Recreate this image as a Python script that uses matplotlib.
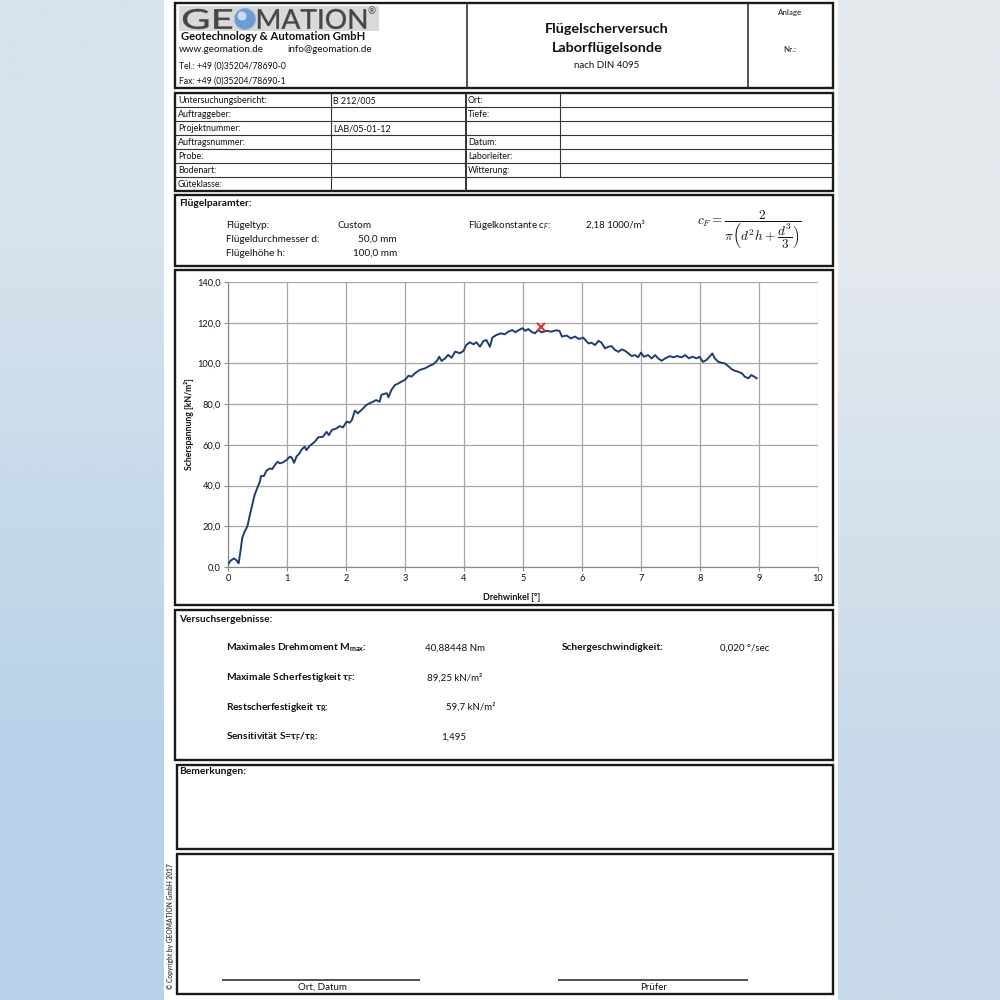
import matplotlib
matplotlib.use("Agg")
import matplotlib.pyplot as plt
import numpy as np
from matplotlib.patches import Rectangle, Circle, PathPatch
from matplotlib.textpath import TextPath
from matplotlib.font_manager import FontProperties
from matplotlib.transforms import Affine2D
from matplotlib.ticker import FuncFormatter

plt.rcParams["font.family"] = ["Lato", "DejaVu Sans"]
plt.rcParams["mathtext.fontset"] = "custom"
plt.rcParams["mathtext.rm"] = "Lato"
plt.rcParams["mathtext.bf"] = "Lato:bold"
plt.rcParams["mathtext.it"] = "Lato:italic"

# Messkurve
drehwinkel = [0.00, 0.045, 0.10, 0.14, 0.18, 0.21, 0.24, 0.28, 0.33, 0.37, 0.41, 0.45,
              0.50, 0.54, 0.56, 0.61, 0.65, 0.71, 0.75, 0.79, 0.84, 0.88, 0.93, 0.99,
              1.05, 1.08, 1.12, 1.16, 1.21, 1.25, 1.30, 1.33, 1.38, 1.47, 1.53, 1.61,
              1.67, 1.71, 1.76, 1.84, 1.89, 1.95, 2.01, 2.06, 2.10, 2.15, 2.20, 2.29,
              2.34, 2.40, 2.46, 2.51, 2.57, 2.60, 2.69, 2.72, 2.77,
              2.83, 2.89, 2.94, 3.00, 3.06, 3.11, 3.17, 3.25, 3.34, 3.42, 3.48, 3.54,
              3.58, 3.62, 3.68, 3.73, 3.79, 3.85, 3.93, 3.99, 4.04, 4.10, 4.16, 4.21,
              4.27, 4.33, 4.38, 4.44, 4.48, 4.55, 4.63, 4.69, 4.75, 4.82, 4.87, 4.93,
              4.99, 5.04, 5.09, 5.14, 5.20, 5.26, 5.31, 5.40, 5.48, 5.57, 5.62, 5.66,
              5.74, 5.81, 5.88, 5.95, 6.02,
              6.11, 6.16, 6.22, 6.28, 6.33, 6.39, 6.45, 6.50, 6.56, 6.62, 6.67, 6.73,
              6.79, 6.84, 6.90, 6.95, 7.00, 7.05, 7.12, 7.18, 7.24, 7.29, 7.35, 7.41,
              7.49, 7.55, 7.61, 7.69, 7.75, 7.81, 7.87, 7.94, 7.99, 8.05, 8.11, 8.17,
              8.21, 8.25, 8.31, 8.37, 8.42, 8.49, 8.54, 8.59, 8.65, 8.71, 8.76, 8.82,
              8.87, 8.92, 8.96]
scherspannung = [1.4, 3.1, 4.2, 3.4, 1.8, 7.5, 14.1, 17.3, 20.1, 25.5, 30.4, 35.3,
                 39.1, 41.9, 44.7, 44.7, 47.3, 48.4, 48.1, 49.9, 51.7, 50.9, 51.4, 52.5,
                 54.2, 53.8, 51.2, 54.2, 55.8, 57.8, 59.1, 57.4, 59.4, 61.5, 63.7, 64.0,
                 66.4, 64.8, 67.3, 68.1, 69.2, 68.6, 71.4, 70.9, 72.2, 76.8, 75.5, 77.9,
                 79.5, 80.4, 81.2, 82.0, 81.2, 84.6, 85.4, 83.4, 87.0,
                 89.4, 90.2, 91.1, 91.9, 94.0, 93.5, 95.2, 96.8, 97.6, 98.9, 99.6, 101.2,
                 103.3, 101.2, 102.5, 104.2, 102.8, 105.8, 105.0, 106.1, 109.1, 110.4, 109.4, 110.4,
                 108.2, 111.0, 111.5, 108.2, 112.7, 114.0, 114.8, 114.3, 115.6, 116.4, 115.3, 116.4,
                 117.3, 116.0, 116.9, 115.6, 114.8, 116.4, 115.3, 116.0, 115.6, 116.3, 115.9, 113.2,
                 113.7, 112.3, 113.2, 112.0, 112.7,
                 109.8, 110.2, 109.0, 111.1, 110.2, 107.4, 108.2, 108.5, 106.6, 105.7, 106.9, 106.2,
                 104.9, 103.6, 104.1, 103.0, 105.3, 103.3, 104.1, 102.5, 104.1, 102.5, 101.3, 102.5,
                 103.6, 103.0, 103.6, 103.0, 104.1, 102.5, 103.3, 102.5, 103.3, 100.8, 101.7, 103.6,
                 104.9, 102.5, 100.8, 100.3, 100.0, 98.4, 97.1, 96.4, 95.9, 95.1, 93.5, 92.7,
                 94.3, 93.5, 92.7]
max_punkt = (5.31, 118.0)

x_ticks = list(range(0, 11))
y_ticks = [0, 20, 40, 60, 80, 100, 120, 140]

kopf_links = [
    ("Untersuchungsbericht:", "B 212/005"),
    ("Auftraggeber:", ""),
    ("Projektnummer:", "LAB/05-01-12"),
    ("Auftragsnummer:", ""),
    ("Probe:", ""),
    ("Bodenart:", ""),
    ("Güteklasse:", ""),
]
kopf_rechts = ["Ort:", "Tiefe:", "", "Datum:", "Laborleiter:", "Witterung:", ""]

ergebnisse = [
    ("Maximales Drehmoment M$_{\\mathbf{max}}$:", "40,88448 Nm", 425),
    ("Maximale Scherfestigkeit τ$_{\\mathbf{F}}$:", "89,25 kN/m²", 427),
    ("Restscherfestigkeit τ$_{\\mathbf{R}}$:", "59,7 kN/m²", 446),
    ("Sensitivität S=τ$_{\\mathbf{F}}$/τ$_{\\mathbf{R}}$:", "1,495", 441),
]

fig = plt.figure(figsize=(10, 10), dpi=100)
bg = fig.add_axes([0, 0, 1, 1])
bg.set_xlim(0, 1000)
bg.set_ylim(1000, 0)
bg.axis("off")

# Hintergrundverlauf
corners = np.array([[[214, 226, 236], [228, 233, 238]],
                    [[184, 210, 233], [200, 218, 233]]]) / 255.0
bg.imshow(corners, extent=[0, 1000, 1000, 0], interpolation="bilinear", aspect="auto", zorder=0)
bg.add_patch(Rectangle((164, 0), 674, 1000, facecolor="white", edgecolor="none", zorder=1))


def t(x, y, s, size=6.6, weight="normal", ha="left", **kw):
    bg.text(x, y, s, fontsize=size, fontweight=weight, ha=ha, va="center", color="#111111", zorder=5, **kw)


def box(x0, y0, x1, y1, lw=1.7):
    bg.add_patch(Rectangle((x0, y0), x1 - x0, y1 - y0, fill=False, edgecolor="#1a1a1a", lw=lw, zorder=4))


def line(x0, y0, x1, y1, lw=0.8, color="#333333"):
    bg.plot([x0, x1], [y0, y1], color=color, lw=lw, zorder=4, solid_capstyle="butt")


def fit_text(s, x0, x1, ytop, ybot, color):
    tp = TextPath((0, 0), s, size=10, prop=FontProperties(family="Lato"))
    bb = tp.get_extents()
    sx = (x1 - x0) / bb.width
    sy = (ybot - ytop) / bb.height
    tr = Affine2D().translate(-bb.x0, -bb.y0).scale(sx, -sy).translate(x0, ybot)
    bg.add_patch(PathPatch(tr.transform_path(tp), facecolor=color, edgecolor=color, lw=0.3, zorder=5))


# Kopf
box(175, 3, 833, 88)
line(467, 3, 467, 88, lw=1.2)
line(748, 3, 748, 88, lw=1.2)
bg.add_patch(Rectangle((179, 6), 200, 25, facecolor="#d9d9d9", edgecolor="none", zorder=2))
fit_text("GE", 183, 232, 9, 29, "#474747")
bg.add_patch(Circle((245, 19), 10.5, facecolor="#6f9bd3", edgecolor="#8fb2de", lw=0.8, zorder=5))
bg.add_patch(Circle((242, 16), 4.5, facecolor="#c9dcf3", edgecolor="none", zorder=6))
fit_text("MATION", 258, 366, 9, 29, "#474747")
bg.text(372, 12, "®", fontsize=7, color="#474747", ha="center", va="center", zorder=5)
t(181, 36, "Geotechnology & Automation GmbH", size=8.1, weight="bold")
t(179, 49, "www.geomation.de", size=7.1)
t(287, 49, "info@geomation.de", size=7.1)
t(179, 66, "Tel.: +49 (0)35204/78690-0", size=6.2)
t(179, 81, "Fax: +49 (0)35204/78690-1", size=6.2)
t(607, 29, "Flügelscherversuch", size=10.4, weight="bold", ha="center")
t(607, 48, "Laborflügelsonde", size=10.4, weight="bold", ha="center")
t(607, 65, "nach DIN 4095", size=7.0, ha="center")
t(790, 13, "Anlage", size=5.8, ha="center")
t(790, 49, "Nr.:", size=5.8, ha="center")

# Angaben-Tabelle
box(175, 93, 833, 191)
row_h = 14
for i in range(1, 7):
    yy = 93 + i * row_h
    line(175, yy, 833, yy)
line(331, 93, 331, 191)
line(466, 93, 466, 191, lw=1.4)
line(560, 93, 560, 177)
for i, (lab, val) in enumerate(kopf_links):
    yc = 93 + row_h * i + row_h / 2 + 0.5
    t(178, yc, lab, size=6.4)
    t(333, yc, val, size=6.4)
    t(468, yc, kopf_rechts[i], size=6.4)

# Flügelparameter
box(175, 195, 833, 266)
t(179, 204, "Flügelparamter:", size=7.4, weight="bold")
t(226, 225, "Flügeltyp:", size=7.2)
t(338, 225, "Custom", size=7.2)
t(226, 239, "Flügeldurchmesser d:", size=7.2)
t(397, 239, "50,0 mm", size=7.2, ha="right")
t(226, 253, "Flügelhöhe h:", size=7.2)
t(397, 253, "100,0 mm", size=7.2, ha="right")
t(468, 225, "Flügelkonstante c$_{F}$:", size=7.0)
t(586, 225, "2,18 1000/m³", size=6.9)
bg.text(697, 230, r"$c_F = \dfrac{2}{\pi\left(d^2h+\dfrac{d^3}{3}\right)}$", math_fontfamily="cm",
        fontsize=9.6, ha="left", va="center", color="#111111", zorder=5)

# Diagramm
box(175, 270, 833, 605)
ax = fig.add_axes([228 / 1000, 1 - 567 / 1000, 590 / 1000, 285 / 1000])
ax.plot(drehwinkel, scherspannung, color="#1f3d73", lw=1.4, zorder=3)
ax.plot([max_punkt[0]], [max_punkt[1]], marker="x", color="#d23a3a", ms=6, mew=1.5, zorder=4)
ax.set_xlim(0, 10)
ax.set_ylim(0, 140)
ax.set_xticks(x_ticks)
ax.set_yticks(y_ticks)
ax.yaxis.set_major_formatter(FuncFormatter(lambda v, p: f"{v:.1f}".replace(".", ",")))
ax.grid(True, color="#a6a6a6", lw=0.9)
ax.set_axisbelow(True)
for side in ("top", "right"):
    ax.spines[side].set_visible(False)
for side in ("left", "bottom"):
    ax.spines[side].set_color("#8c8c8c")
    ax.spines[side].set_linewidth(0.9)
ax.tick_params(axis="both", labelsize=6.7, length=3, width=0.8, color="#8c8c8c", pad=2, labelcolor="#111111")
ax.set_xlabel("Drehwinkel [°]", fontsize=6.4, fontweight="bold", color="#111111")
ax.set_ylabel("Scherspannung [kN/m²]", fontsize=6.2, fontweight="bold", color="#111111")
ax.xaxis.set_label_coords((512 - 228) / 590, -0.092)
ax.yaxis.set_label_coords(-(228 - 194) / 590, 0.5)

# Ergebnisse
box(175, 610, 833, 760)
t(179, 620, "Versuchsergebnisse:", size=7.3, weight="bold")
for i, (lab, val, vx) in enumerate(ergebnisse):
    yy = 648 + i * 29.7
    t(226, yy, lab, size=7.3, weight="bold")
    t(vx, yy, val, size=7.0)
t(562, 648, "Schergeschwindigkeit:", size=7.3, weight="bold")
t(720, 648, "0,020 °/sec", size=7.0)

# Bemerkungen
box(177, 765, 833, 849)
t(179, 772, "Bemerkungen:", size=7.4, weight="bold")

# Unterschriften
box(177, 854, 833, 994)
line(222, 980, 420, 980, lw=1.1, color="#222222")
line(558, 980, 748, 980, lw=1.1, color="#222222")
t(322, 987, "Ort, Datum", size=7.0, ha="center")
t(654, 987, "Prüfer", size=7.0, ha="center")
bg.text(171, 926, "© Copyright by GEOMATION GmbH 2017", fontsize=4.8, rotation=90, fontweight="bold",
        ha="center", va="center", color="#444444", zorder=5)

fig.savefig("out.png", dpi=100)
